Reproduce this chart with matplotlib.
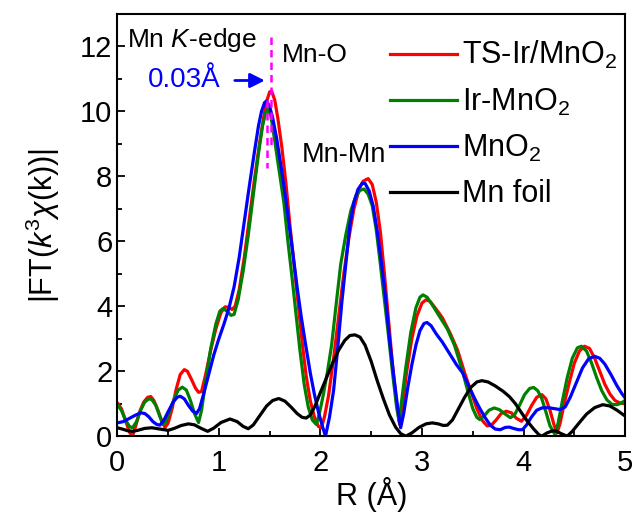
import matplotlib
matplotlib.use('Agg')
import matplotlib.pyplot as plt
from matplotlib.ticker import MultipleLocator

plt.rcParams['font.family'] = ['Liberation Sans', 'DejaVu Sans']
plt.rcParams['mathtext.fontset'] = 'custom'
plt.rcParams['mathtext.rm'] = 'Liberation Sans'
plt.rcParams['mathtext.it'] = 'Liberation Sans:italic'
plt.rcParams['mathtext.bf'] = 'Liberation Sans:bold'

# TS-Ir/MnO2
r_red = [0, 0.04, 0.08, 0.12, 0.15, 0.18, 0.22, 0.26, 0.3, 0.33, 0.36, 0.4, 0.44, 0.47,
         0.5, 0.54, 0.58, 0.62, 0.66, 0.69, 0.73, 0.77, 0.8, 0.83, 0.87, 0.92, 0.97, 1.02,
         1.06, 1.1, 1.13, 1.16, 1.2, 1.25, 1.3, 1.35, 1.4, 1.44, 1.47, 1.5, 1.52, 1.55,
         1.58, 1.62, 1.66, 1.7, 1.74, 1.78, 1.82, 1.86, 1.9, 1.94, 1.98, 2.01, 2.04, 2.08,
         2.13, 2.18, 2.23, 2.28, 2.33, 2.38, 2.42, 2.47, 2.51, 2.55, 2.59, 2.63, 2.67, 2.71,
         2.75, 2.78, 2.81, 2.85, 2.9, 2.95, 3.0, 3.04, 3.08, 3.13, 3.2, 3.28, 3.35, 3.42,
         3.48, 3.54, 3.59, 3.64, 3.68, 3.73, 3.78, 3.83, 3.88, 3.93, 3.98, 4.03, 4.08, 4.13,
         4.18, 4.22, 4.26, 4.3, 4.33, 4.36, 4.4, 4.45, 4.5, 4.55, 4.6, 4.65, 4.7, 4.75,
         4.8, 4.85, 4.9, 4.95, 5.0]
ft_red = [1.03, 0.85, 0.5, 0.12, 0.0, 0.3, 0.75, 1.05, 1.2, 1.22, 1.1, 0.8, 0.45, 0.27,
          0.4, 0.85, 1.45, 1.9, 2.05, 2.0, 1.75, 1.48, 1.35, 1.38, 1.9, 2.65, 3.3, 3.8,
          3.98, 3.97, 3.9, 4.0, 4.5, 5.5, 6.7, 7.9, 9.0, 9.8, 10.3, 10.6, 10.62, 10.35,
          9.8, 8.9, 7.8, 6.5, 5.3, 4.1, 2.9, 1.85, 1.1, 0.6, 0.3, 0.26, 0.6, 1.25,
          2.4, 3.7, 5.0, 6.1, 7.0, 7.6, 7.85, 7.93, 7.75, 7.2, 6.3, 5.0, 3.6, 2.2,
          1.0, 0.36, 1.0, 2.0, 3.0, 3.7, 4.1, 4.2, 4.15, 3.95, 3.65, 3.15, 2.65, 1.95,
          1.4, 0.85, 0.5, 0.32, 0.33, 0.5, 0.7, 0.77, 0.72, 0.55, 0.46, 0.65, 0.95, 1.2,
          1.28, 1.15, 0.8, 0.35, 0.1, 0.4, 1.0, 1.65, 2.25, 2.62, 2.77, 2.7, 2.4, 2.0,
          1.6, 1.3, 1.1, 1.02, 1.0]

# Ir-MnO2
r_green = [0, 0.04, 0.08, 0.12, 0.15, 0.19, 0.23, 0.27, 0.31, 0.34, 0.38, 0.42, 0.45, 0.48,
           0.52, 0.56, 0.6, 0.64, 0.68, 0.72, 0.76, 0.8, 0.83, 0.87, 0.92, 0.97, 1.01, 1.04,
           1.08, 1.12, 1.15, 1.19, 1.24, 1.29, 1.34, 1.39, 1.43, 1.46, 1.48, 1.51, 1.55,
           1.59, 1.64, 1.68, 1.72, 1.76, 1.8, 1.84, 1.88, 1.92, 1.96, 1.99, 2.03, 2.07,
           2.11, 2.16, 2.2, 2.25, 2.3, 2.35, 2.39, 2.43, 2.47, 2.51, 2.55, 2.59, 2.63, 2.67,
           2.71, 2.75, 2.775, 2.8, 2.84, 2.89, 2.94, 2.98, 3.01, 3.05, 3.1, 3.17, 3.25, 3.32,
           3.39, 3.45, 3.5, 3.54, 3.57, 3.61, 3.66, 3.71, 3.76, 3.82, 3.87, 3.91, 3.96, 4.01,
           4.06, 4.1, 4.14, 4.18, 4.22, 4.26, 4.31, 4.34, 4.38, 4.43, 4.48, 4.53, 4.57, 4.62,
           4.67, 4.72, 4.77, 4.82, 4.87, 4.92, 4.96, 5.0]
ft_green = [0.97, 0.8, 0.5, 0.3, 0.26, 0.45, 0.8, 1.05, 1.15, 1.13, 0.95, 0.6, 0.37, 0.45,
            0.8, 1.15, 1.42, 1.51, 1.42, 1.1, 0.7, 0.42, 0.8, 1.7, 2.7, 3.45, 3.85, 3.93,
            3.85, 3.72, 3.75, 4.2, 5.1, 6.2, 7.45, 8.7, 9.55, 9.95, 10.06, 9.9, 9.1,
            8.25, 7.2, 6.0, 4.9, 3.75, 2.6, 1.6, 0.9, 0.5, 0.36, 0.7, 1.3, 2.0,
            2.8, 4.2, 5.3, 6.2, 6.95, 7.4, 7.57, 7.61, 7.45, 7.1, 6.35, 5.3, 4.2, 3.1,
            1.95, 0.9, 0.45, 1.1, 2.1, 3.2, 3.95, 4.28, 4.35, 4.28, 4.05, 3.7, 3.3, 2.8,
            2.1, 1.4, 0.85, 0.58, 0.51, 0.62, 0.8, 0.87, 0.82, 0.68, 0.57, 0.65, 0.95, 1.28,
            1.47, 1.5, 1.4, 1.15, 0.75, 0.32, 0.05, 0.4, 1.05, 1.8, 2.4, 2.72, 2.77, 2.62,
            2.25, 1.8, 1.4, 1.12, 0.98, 0.97, 1.02, 1.1]

# MnO2
r_blue = [0, 0.06, 0.12, 0.18, 0.23, 0.27, 0.31, 0.35, 0.39, 0.42, 0.46, 0.5, 0.55, 0.59,
          0.62, 0.66, 0.7, 0.74, 0.78, 0.81, 0.85, 0.9, 0.95, 1.0, 1.05, 1.1, 1.15, 1.2,
          1.25, 1.3, 1.35, 1.39, 1.42, 1.45, 1.47, 1.5, 1.53, 1.57, 1.61, 1.65, 1.69, 1.73,
          1.77, 1.81, 1.85, 1.9, 1.94, 1.98, 2.02, 2.05, 2.09, 2.13, 2.17, 2.21, 2.25, 2.29,
          2.33, 2.37, 2.41, 2.44, 2.48, 2.52, 2.56, 2.6, 2.64, 2.68, 2.72, 2.76, 2.79, 2.82,
          2.86, 2.9, 2.94, 2.98, 3.02, 3.05, 3.09, 3.14, 3.2, 3.27, 3.34, 3.4, 3.46, 3.52,
          3.57, 3.62, 3.67, 3.72, 3.77, 3.82, 3.86, 3.9, 3.95, 3.99, 4.03, 4.08, 4.13, 4.18,
          4.24, 4.3, 4.36, 4.41, 4.46, 4.52, 4.58, 4.64, 4.7, 4.75, 4.8, 4.86, 4.92, 4.97,
          5.0]
ft_blue = [0.41, 0.45, 0.55, 0.65, 0.72, 0.7, 0.6, 0.45, 0.36, 0.34, 0.5, 0.75, 1.05, 1.2,
           1.23, 1.15, 0.95, 0.78, 0.7, 0.85, 1.3, 1.9, 2.5, 3.0, 3.45, 3.95, 4.6, 5.5,
           6.6, 7.7, 8.75, 9.55, 10.0, 10.27, 10.32, 10.15, 9.8, 9.15, 8.35, 7.5, 6.55, 5.6,
           4.6, 3.7, 2.9, 1.95, 1.3, 0.75, 0.3, 0.0, 0.6, 1.42, 2.7, 4.1, 5.3, 6.5,
           7.2, 7.6, 7.78, 7.78, 7.55, 7.08, 6.3, 5.35, 4.3, 3.0, 1.9, 0.9, 0.26, 0.7,
           1.5, 2.2, 2.8, 3.25, 3.47, 3.5, 3.4, 3.15, 2.9, 2.55, 2.2, 1.95, 1.55, 1.15,
           0.85, 0.58, 0.35, 0.22, 0.2, 0.27, 0.28, 0.24, 0.2, 0.2, 0.35, 0.6, 0.8, 0.87,
           0.88, 0.85, 0.82, 0.9, 1.2, 1.65, 2.1, 2.38, 2.46, 2.4, 2.22, 1.9, 1.55, 1.3,
           1.18]

# Mn foil
r_foil = [0, 0.05, 0.1, 0.15, 0.2, 0.27, 0.34, 0.42, 0.5, 0.56, 0.63, 0.7, 0.76, 0.82,
          0.89, 0.95, 1.02, 1.11, 1.18, 1.24, 1.29, 1.34, 1.4, 1.47, 1.53, 1.59, 1.65, 1.71,
          1.77, 1.82, 1.86, 1.9, 1.95, 2.0, 2.06, 2.12, 2.18, 2.24, 2.29, 2.34, 2.39, 2.44,
          2.5, 2.56, 2.62, 2.68, 2.74, 2.79, 2.84, 2.9, 2.97, 3.04, 3.1, 3.16, 3.21, 3.25,
          3.3, 3.36, 3.42, 3.48, 3.54, 3.59, 3.65, 3.72, 3.8, 3.86, 3.92, 3.98, 4.04, 4.1,
          4.15, 4.18, 4.23, 4.28, 4.32, 4.37, 4.43, 4.48, 4.55, 4.62, 4.7, 4.78, 4.85, 4.92,
          5.0]
ft_foil = [0.26, 0.22, 0.17, 0.15, 0.18, 0.24, 0.26, 0.22, 0.18, 0.24, 0.33, 0.38, 0.35, 0.25,
           0.15, 0.25, 0.42, 0.53, 0.45, 0.3, 0.23, 0.35, 0.62, 0.93, 1.1, 1.16, 1.08, 0.9,
           0.7, 0.58, 0.56, 0.65, 0.95, 1.35, 1.8, 2.25, 2.65, 2.95, 3.1, 3.12, 3.05, 2.8,
           2.3, 1.7, 1.15, 0.65, 0.28, 0.08, 0.0, 0.1, 0.27, 0.38, 0.41, 0.38, 0.33, 0.34,
           0.5, 0.85, 1.2, 1.5, 1.67, 1.71, 1.67, 1.55, 1.38, 1.22, 1.0, 0.72, 0.45, 0.22,
           0.05, 0.0, 0.1, 0.16, 0.16, 0.08, 0.0, 0.15, 0.42, 0.68, 0.88, 0.97, 0.93, 0.8,
           0.62]

labels = ['TS-Ir/MnO$_2$', 'Ir-MnO$_2$', 'MnO$_2$', 'Mn foil']
colors = ['#ff0000', '#008000', '#0000ff', '#000000']

fig = plt.figure(figsize=(6.34, 5.15), dpi=100)
ax = fig.add_axes([0.185, 0.153, 0.801, 0.820])

series = [(r_red, ft_red), (r_green, ft_green), (r_blue, ft_blue), (r_foil, ft_foil)]
for (r, ft), lab, c in zip(series, labels, colors):
    ax.plot(r, ft, color=c, lw=2.3, label=lab)

# edge shift marker
ax.plot([1.516, 1.516], [12.3, 8.9], color='#ff00ff', lw=1.8, dashes=(3, 2), zorder=5)
ax.plot([1.473, 1.473], [10.35, 8.25], color='#ff00ff', lw=1.8, dashes=(3, 2), zorder=5)
ax.annotate('', xy=(1.48, 10.95), xytext=(1.13, 10.95),
            arrowprops=dict(arrowstyle='-|>', color='#0000ff', lw=2, mutation_scale=22))
ax.text(0.3, 10.95, '0.03Å', color='#0000ff', fontsize=20, va='center', ha='left')
ax.text(0.1, 12.2, 'Mn $\\it{K}$-edge', fontsize=19, va='center', ha='left')
ax.text(1.62, 11.75, 'Mn-O', fontsize=19, va='center', ha='left')
ax.text(1.82, 8.65, 'Mn-Mn', fontsize=19.5, va='center', ha='left')

ax.set_xlim(0, 5)
ax.set_ylim(0, 13)
ax.xaxis.set_major_locator(MultipleLocator(1))
ax.xaxis.set_minor_locator(MultipleLocator(0.5))
ax.yaxis.set_major_locator(MultipleLocator(2))
ax.yaxis.set_minor_locator(MultipleLocator(1))
ax.tick_params(which='both', direction='in', labelsize=21, width=1.3)
ax.tick_params(which='major', length=6)
ax.tick_params(which='minor', length=3.5)
ax.tick_params(axis='x', pad=9)
for s in ax.spines.values():
    s.set_linewidth(1.5)

ax.set_xlabel('R (Å)', fontsize=22, labelpad=0)
ax.set_ylabel('|FT($\\it{k}^3\\chi$(k))|', fontsize=22, labelpad=13)

ax.legend(loc='upper right', bbox_to_anchor=(1.025, 0.987), frameon=False, fontsize=22,
          handlelength=2.2, handletextpad=0.17, labelspacing=0.5, borderaxespad=0.25)

fig.savefig('out.png', dpi=100)
